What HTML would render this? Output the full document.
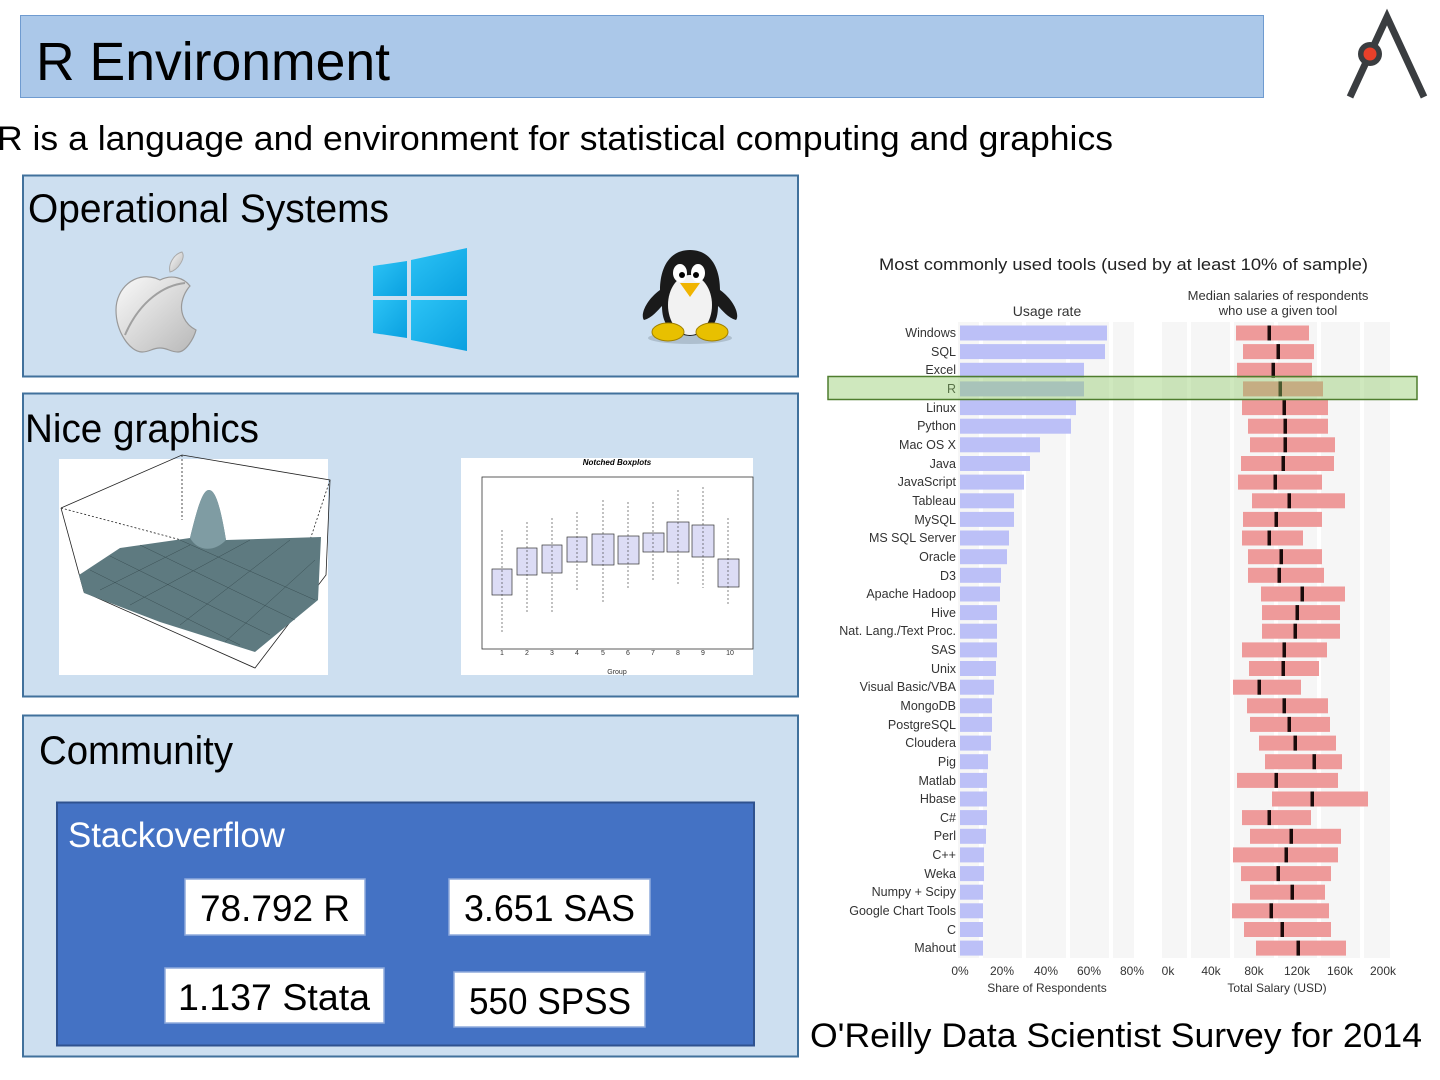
<!DOCTYPE html>
<html><head><meta charset="utf-8"><style>
html,body{margin:0;padding:0;background:#fff;width:1440px;height:1080px;overflow:hidden}
svg{display:block;font-family:"Liberation Sans",sans-serif}
</style></head><body>
<svg width="1440" height="1080" viewBox="0 0 1440 1080" xmlns="http://www.w3.org/2000/svg">
<rect x="20.5" y="15.5" width="1243" height="82" fill="#abc8e9" stroke="#6f9bd0"/>
<text x="36" y="80" font-size="54" textLength="354" lengthAdjust="spacingAndGlyphs">R Environment</text>
<g stroke="#3a3d40" stroke-width="7" fill="none"><polyline points="1350,97 1387,17 1424,97"/></g>
<circle cx="1370" cy="54" r="12" fill="#3a3d40"/>
<circle cx="1370" cy="54" r="6.5" fill="#e8402a"/>
<text x="-3" y="150" font-size="34" textLength="1116" lengthAdjust="spacingAndGlyphs">R is a language and environment for statistical computing and graphics</text>

<rect x="23" y="175.5" width="775" height="201" fill="#cddff0" stroke="#41719c" stroke-width="2"/>
<text x="28" y="222" font-size="40" textLength="361" lengthAdjust="spacingAndGlyphs">Operational Systems</text>
<defs><linearGradient id="ap" x1="0" y1="0" x2="1" y2="1"><stop offset="0" stop-color="#fafafa"/><stop offset="1" stop-color="#b8b8b8"/></linearGradient>
<linearGradient id="win" x1="0" y1="0" x2="1" y2="1"><stop offset="0" stop-color="#2cc3f5"/><stop offset="1" stop-color="#0aa0e0"/></linearGradient></defs>
<path d="M182,252 C186,258 178,270 170,272 C168,264 174,254 182,252 Z" fill="url(#ap)" stroke="#aaa"/>
<path d="M155,278 C135,272 116,288 116,310 C116,332 130,352 142,352 C150,352 152,348 160,348 C168,348 170,352 178,352 C186,352 194,338 196,330 C184,324 180,312 182,302 C184,292 190,286 190,286 C184,278 172,274 160,280 Z" fill="url(#ap)" stroke="#999" stroke-width="1.2"/>
<path d="M125,335 C140,300 165,285 185,283" stroke="#a0a0a0" stroke-width="2" fill="none"/>
<polygon points="373,266 407,261 407,296 373,296" fill="url(#win)"/>
<polygon points="411,260 467,248 467,296 411,296" fill="url(#win)"/>
<polygon points="373,300 407,300 407,338 373,333" fill="url(#win)"/>
<polygon points="411,300 467,300 467,351 411,340" fill="url(#win)"/>
<ellipse cx="690" cy="338" rx="42" ry="6" fill="#9aaab8" opacity="0.6"/>
<path d="M690,250 C668,250 660,270 660,290 C646,300 640,315 644,320 C652,318 658,310 662,306 C662,322 668,334 690,336 C712,334 718,322 718,306 C722,310 728,318 736,320 C740,315 734,300 720,290 C720,270 712,250 690,250 Z" fill="#1a1a1a"/>
<ellipse cx="690" cy="305" rx="22" ry="30" fill="#f2f2f2"/>
<ellipse cx="680" cy="273" rx="7" ry="9" fill="#fff"/><ellipse cx="698" cy="273" rx="7" ry="9" fill="#fff"/>
<circle cx="682" cy="275" r="3" fill="#000"/><circle cx="696" cy="275" r="3" fill="#000"/>
<polygon points="680,283 700,283 690,297" fill="#f0b400"/>
<ellipse cx="668" cy="332" rx="16" ry="9" fill="#e8c000" stroke="#a08000"/>
<ellipse cx="712" cy="332" rx="16" ry="9" fill="#e8c000" stroke="#a08000"/>

<rect x="23" y="393.5" width="775" height="303" fill="#cddff0" stroke="#41719c" stroke-width="2"/>
<text x="25" y="442" font-size="40" textLength="234" lengthAdjust="spacingAndGlyphs">Nice graphics</text>
<rect x="59" y="459" width="269" height="216" fill="#fff"/>
<g stroke="#222" stroke-width="0.8" fill="none">
<polyline points="61,508 182,455 330,480 326,575 255,668 84,592 61,508"/>
<line x1="182" y1="455" x2="182" y2="520" stroke-dasharray="2,2"/>
<line x1="61" y1="508" x2="200" y2="545" stroke-dasharray="2,2"/>
<line x1="330" y1="480" x2="310" y2="540" stroke-dasharray="2,2"/>
</g>
<path d="M79,575 L120,548 L190,538 C198,505 203,490 209,490 C216,490 221,510 226,540 L321,537 L318,600 L255,652 L160,622 L84,593 Z" fill="#5e7a80"/>
<path d="M190,538 C198,505 203,490 209,490 C216,490 221,510 226,540 C215,552 198,552 190,538 Z" fill="#7f9ca3"/>
<g stroke="#2a3c40" stroke-width="0.5" opacity="0.7">
<line x1="90" y1="570" x2="240" y2="645"/><line x1="110" y1="556" x2="270" y2="635"/><line x1="140" y1="545" x2="295" y2="620"/><line x1="180" y1="540" x2="315" y2="600"/>
<line x1="130" y1="605" x2="250" y2="540"/><line x1="180" y1="625" x2="290" y2="540"/><line x1="225" y1="642" x2="315" y2="560"/><line x1="100" y1="590" x2="190" y2="545"/>
</g>
<rect x="461" y="458" width="292" height="217" fill="#fff"/>
<text x="617" y="465" font-size="8" font-weight="bold" font-style="italic" text-anchor="middle">Notched Boxplots</text>
<rect x="482" y="477" width="271" height="172" fill="none" stroke="#333" stroke-width="0.8"/>
<g fill="#dcdcf5" stroke="#333" stroke-width="0.7">
<rect x="492" y="569" width="20" height="26"/><rect x="517" y="548" width="20" height="27"/><rect x="542" y="545" width="20" height="28"/><rect x="567" y="537" width="20" height="25"/><rect x="592" y="534" width="22" height="31"/><rect x="618" y="536" width="21" height="28"/><rect x="643" y="533" width="21" height="19"/><rect x="667" y="522" width="22" height="30"/><rect x="692" y="525" width="22" height="32"/><rect x="718" y="559" width="21" height="28"/>
</g>
<g stroke="#333" stroke-width="0.6" stroke-dasharray="2,2">
<line x1="502" y1="530" x2="502" y2="632"/><line x1="527" y1="522" x2="527" y2="612"/><line x1="552" y1="518" x2="552" y2="612"/><line x1="577" y1="512" x2="577" y2="590"/><line x1="603" y1="500" x2="603" y2="602"/><line x1="628" y1="502" x2="628" y2="590"/><line x1="653" y1="502" x2="653" y2="580"/><line x1="678" y1="490" x2="678" y2="585"/><line x1="703" y1="487" x2="703" y2="588"/><line x1="728" y1="518" x2="728" y2="605"/>
</g>
<g font-size="7" fill="#333" text-anchor="middle"><text x="502" y="655">1</text><text x="527" y="655">2</text><text x="552" y="655">3</text><text x="577" y="655">4</text><text x="603" y="655">5</text><text x="628" y="655">6</text><text x="653" y="655">7</text><text x="678" y="655">8</text><text x="703" y="655">9</text><text x="730" y="655">10</text><text x="617" y="674">Group</text></g>

<rect x="23" y="715.5" width="775" height="341" fill="#cddff0" stroke="#41719c" stroke-width="2"/>
<text x="39" y="764" font-size="40" textLength="194" lengthAdjust="spacingAndGlyphs">Community</text>
<rect x="57" y="802.5" width="697" height="243" fill="#4472c4" stroke="#2f528f" stroke-width="2"/>
<text x="68" y="847" font-size="35" fill="#fff" textLength="217" lengthAdjust="spacingAndGlyphs">Stackoverflow</text>
<g stroke="#8faadc" stroke-width="1.5" fill="#fff">
<rect x="185" y="879" width="180" height="56"/><rect x="449" y="879" width="201" height="56"/>
<rect x="165" y="968" width="219" height="55"/><rect x="454" y="972" width="191" height="55"/>
</g>
<g font-size="37" fill="#000">
<text x="200" y="921" textLength="150" lengthAdjust="spacingAndGlyphs">78.792 R</text>
<text x="464" y="921" textLength="171" lengthAdjust="spacingAndGlyphs">3.651 SAS</text>
<text x="178" y="1010" textLength="192" lengthAdjust="spacingAndGlyphs">1.137 Stata</text>
<text x="469" y="1014" textLength="162" lengthAdjust="spacingAndGlyphs">550 SPSS</text>
</g>

<text x="879" y="270" font-size="16.5" fill="#222" textLength="489" lengthAdjust="spacingAndGlyphs">Most commonly used tools (used by at least 10% of sample)</text>
<text x="1047" y="316" font-size="14" text-anchor="middle" fill="#333">Usage rate</text>
<text x="1278" y="300" font-size="13" text-anchor="middle" fill="#333">Median salaries of respondents</text>
<text x="1278" y="315" font-size="13" text-anchor="middle" fill="#333">who use a given tool</text>
<rect x="958" y="322" width="176" height="636" fill="#f6f6f6"/>
<rect x="1162" y="322" width="228" height="636" fill="#f6f6f6"/>
<g stroke="#fff" stroke-width="4">
<line x1="981" y1="322" x2="981" y2="958"/><line x1="1024" y1="322" x2="1024" y2="958"/><line x1="1068" y1="322" x2="1068" y2="958"/><line x1="1111" y1="322" x2="1111" y2="958"/>
<line x1="1189" y1="322" x2="1189" y2="958"/><line x1="1232" y1="322" x2="1232" y2="958"/><line x1="1276" y1="322" x2="1276" y2="958"/><line x1="1319" y1="322" x2="1319" y2="958"/><line x1="1362" y1="322" x2="1362" y2="958"/>
</g>
<g font-size="12.5" fill="#333" text-anchor="end">
<text x="956" y="337">Windows</text><text x="956" y="356">SQL</text><text x="956" y="374">Excel</text><text x="956" y="393">R</text><text x="956" y="412">Linux</text><text x="956" y="430">Python</text><text x="956" y="449">Mac OS X</text><text x="956" y="468">Java</text><text x="956" y="486">JavaScript</text><text x="956" y="505">Tableau</text><text x="956" y="524">MySQL</text><text x="956" y="542">MS SQL Server</text><text x="956" y="561">Oracle</text><text x="956" y="580">D3</text><text x="956" y="598">Apache Hadoop</text><text x="956" y="617">Hive</text><text x="956" y="635">Nat. Lang./Text Proc.</text><text x="956" y="654">SAS</text><text x="956" y="673">Unix</text><text x="956" y="691">Visual Basic/VBA</text><text x="956" y="710">MongoDB</text><text x="956" y="729">PostgreSQL</text><text x="956" y="747">Cloudera</text><text x="956" y="766">Pig</text><text x="956" y="785">Matlab</text><text x="956" y="803">Hbase</text><text x="956" y="822">C#</text><text x="956" y="840">Perl</text><text x="956" y="859">C++</text><text x="956" y="878">Weka</text><text x="956" y="896">Numpy + Scipy</text><text x="956" y="915">Google Chart Tools</text><text x="956" y="934">C</text><text x="956" y="952">Mahout</text>
</g>
<g fill="#bcc0f7">
<rect x="960" y="325.5" width="147" height="15"/><rect x="960" y="344.1" width="145" height="15"/><rect x="960" y="362.8" width="124" height="15"/><rect x="960" y="381.4" width="124" height="15"/><rect x="960" y="400.1" width="116" height="15"/><rect x="960" y="418.7" width="111" height="15"/><rect x="960" y="437.3" width="80" height="15"/><rect x="960" y="456" width="70" height="15"/><rect x="960" y="474.6" width="64" height="15"/><rect x="960" y="493.3" width="54" height="15"/><rect x="960" y="511.9" width="54" height="15"/><rect x="960" y="530.5" width="49" height="15"/><rect x="960" y="549.2" width="47" height="15"/><rect x="960" y="567.8" width="41" height="15"/><rect x="960" y="586.5" width="40" height="15"/><rect x="960" y="605.1" width="37" height="15"/><rect x="960" y="623.7" width="37" height="15"/><rect x="960" y="642.4" width="37" height="15"/><rect x="960" y="661" width="36" height="15"/><rect x="960" y="679.7" width="34" height="15"/><rect x="960" y="698.3" width="32" height="15"/><rect x="960" y="716.9" width="32" height="15"/><rect x="960" y="735.6" width="31" height="15"/><rect x="960" y="754.2" width="28" height="15"/><rect x="960" y="772.9" width="27" height="15"/><rect x="960" y="791.5" width="27" height="15"/><rect x="960" y="810.1" width="27" height="15"/><rect x="960" y="828.8" width="26" height="15"/><rect x="960" y="847.4" width="24" height="15"/><rect x="960" y="866.1" width="24" height="15"/><rect x="960" y="884.7" width="23" height="15"/><rect x="960" y="903.3" width="23" height="15"/><rect x="960" y="922" width="23" height="15"/><rect x="960" y="940.6" width="23" height="15"/>
</g>
<g fill="#ee9a9a">
<rect x="1236" y="325.5" width="73" height="15"/><rect x="1243" y="344.1" width="71" height="15"/><rect x="1237" y="362.8" width="75" height="15"/><rect x="1243" y="381.4" width="80" height="15"/><rect x="1242" y="400.1" width="86" height="15"/><rect x="1248" y="418.7" width="80" height="15"/><rect x="1250" y="437.3" width="85" height="15"/><rect x="1241" y="456" width="93" height="15"/><rect x="1238" y="474.6" width="84" height="15"/><rect x="1252" y="493.3" width="93" height="15"/><rect x="1243" y="511.9" width="79" height="15"/><rect x="1242" y="530.5" width="61" height="15"/><rect x="1248" y="549.2" width="74" height="15"/><rect x="1248" y="567.8" width="76" height="15"/><rect x="1261" y="586.5" width="84" height="15"/><rect x="1262" y="605.1" width="78" height="15"/><rect x="1262" y="623.7" width="78" height="15"/><rect x="1242" y="642.4" width="85" height="15"/><rect x="1249" y="661" width="70" height="15"/><rect x="1233" y="679.7" width="68" height="15"/><rect x="1247" y="698.3" width="81" height="15"/><rect x="1250" y="716.9" width="80" height="15"/><rect x="1259" y="735.6" width="77" height="15"/><rect x="1265" y="754.2" width="77" height="15"/><rect x="1237" y="772.9" width="101" height="15"/><rect x="1272" y="791.5" width="96" height="15"/><rect x="1242" y="810.1" width="69" height="15"/><rect x="1250" y="828.8" width="91" height="15"/><rect x="1233" y="847.4" width="105" height="15"/><rect x="1241" y="866.1" width="90" height="15"/><rect x="1250" y="884.7" width="75" height="15"/><rect x="1232" y="903.3" width="97" height="15"/><rect x="1244" y="922" width="87" height="15"/><rect x="1256" y="940.6" width="90" height="15"/>
</g>
<g fill="#1a0a0a">
<rect x="1267.5" y="325.5" width="3.5" height="15"/><rect x="1276.5" y="344.1" width="3.5" height="15"/><rect x="1271.5" y="362.8" width="3.5" height="15"/><rect x="1278.5" y="381.4" width="3.5" height="15"/><rect x="1282.5" y="400.1" width="3.5" height="15"/><rect x="1283.5" y="418.7" width="3.5" height="15"/><rect x="1283.5" y="437.3" width="3.5" height="15"/><rect x="1281.5" y="456" width="3.5" height="15"/><rect x="1273.5" y="474.6" width="3.5" height="15"/><rect x="1287.5" y="493.3" width="3.5" height="15"/><rect x="1274.5" y="511.9" width="3.5" height="15"/><rect x="1267.5" y="530.5" width="3.5" height="15"/><rect x="1279.5" y="549.2" width="3.5" height="15"/><rect x="1277.5" y="567.8" width="3.5" height="15"/><rect x="1300.5" y="586.5" width="3.5" height="15"/><rect x="1295.5" y="605.1" width="3.5" height="15"/><rect x="1293.5" y="623.7" width="3.5" height="15"/><rect x="1282.5" y="642.4" width="3.5" height="15"/><rect x="1281.5" y="661" width="3.5" height="15"/><rect x="1257.5" y="679.7" width="3.5" height="15"/><rect x="1282.5" y="698.3" width="3.5" height="15"/><rect x="1287.5" y="716.9" width="3.5" height="15"/><rect x="1293.5" y="735.6" width="3.5" height="15"/><rect x="1312.5" y="754.2" width="3.5" height="15"/><rect x="1274.5" y="772.9" width="3.5" height="15"/><rect x="1310.5" y="791.5" width="3.5" height="15"/><rect x="1267.5" y="810.1" width="3.5" height="15"/><rect x="1289.5" y="828.8" width="3.5" height="15"/><rect x="1284.5" y="847.4" width="3.5" height="15"/><rect x="1276.5" y="866.1" width="3.5" height="15"/><rect x="1290.5" y="884.7" width="3.5" height="15"/><rect x="1269.5" y="903.3" width="3.5" height="15"/><rect x="1280.5" y="922" width="3.5" height="15"/><rect x="1296.5" y="940.6" width="3.5" height="15"/>
</g>
<rect x="828" y="376.5" width="589" height="23" fill="#8cc864" fill-opacity="0.42" stroke="#4f7d2e" stroke-width="1.5"/>
<g font-size="12" fill="#333" text-anchor="middle">
<text x="960" y="975">0%</text><text x="1002" y="975">20%</text><text x="1046" y="975">40%</text><text x="1089" y="975">60%</text><text x="1132" y="975">80%</text>
<text x="1168" y="975">0k</text><text x="1211" y="975">40k</text><text x="1254" y="975">80k</text><text x="1297" y="975">120k</text><text x="1340" y="975">160k</text><text x="1383" y="975">200k</text>
<text x="1047" y="992">Share of Respondents</text><text x="1277" y="992">Total Salary (USD)</text>
</g>
<text x="810" y="1047" font-size="34" textLength="612" lengthAdjust="spacingAndGlyphs">O'Reilly Data Scientist Survey for 2014</text>
</svg>
</body></html>
